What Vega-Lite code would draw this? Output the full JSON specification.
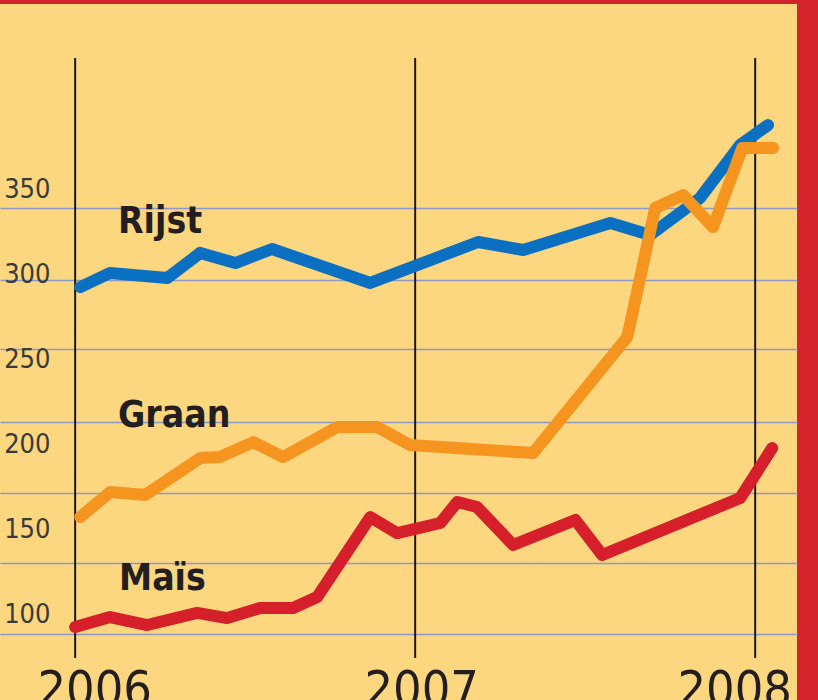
{
  "$schema": "https://vega.github.io/schema/vega-lite/v6.json",
  "width": 797,
  "height": 696,
  "autosize": "none",
  "padding": {"left": 0, "top": 4, "right": 21, "bottom": 0},
  "background": "#d5232b",
  "config": {"view": {"fill": "#fdd680", "stroke": null}},
  "datasets": {
    "years": [{"year": 2006}, {"year": 2007}, {"year": 2008}],
    "series": [
      {"series": "Rijst", "year": 2006.015, "value": 292.9},
      {"series": "Rijst", "year": 2006.103, "value": 301.2},
      {"series": "Rijst", "year": 2006.271, "value": 298.2},
      {"series": "Rijst", "year": 2006.368, "value": 313.0},
      {"series": "Rijst", "year": 2006.471, "value": 307.0},
      {"series": "Rijst", "year": 2006.579, "value": 315.3},
      {"series": "Rijst", "year": 2006.868, "value": 295.3},
      {"series": "Rijst", "year": 2007.185, "value": 319.4},
      {"series": "Rijst", "year": 2007.318, "value": 314.7},
      {"series": "Rijst", "year": 2007.574, "value": 330.6},
      {"series": "Rijst", "year": 2007.691, "value": 323.5},
      {"series": "Rijst", "year": 2007.838, "value": 345.3},
      {"series": "Rijst", "year": 2007.956, "value": 376.5},
      {"series": "Rijst", "year": 2008.038, "value": 388.2},
      {"series": "Graan", "year": 2006.015, "value": 157.6},
      {"series": "Graan", "year": 2006.103, "value": 172.3},
      {"series": "Graan", "year": 2006.206, "value": 170.6},
      {"series": "Graan", "year": 2006.368, "value": 192.3},
      {"series": "Graan", "year": 2006.426, "value": 192.9},
      {"series": "Graan", "year": 2006.524, "value": 201.7},
      {"series": "Graan", "year": 2006.612, "value": 192.9},
      {"series": "Graan", "year": 2006.771, "value": 210.6},
      {"series": "Graan", "year": 2006.888, "value": 210.6},
      {"series": "Graan", "year": 2006.985, "value": 200.0},
      {"series": "Graan", "year": 2007.074, "value": 198.8},
      {"series": "Graan", "year": 2007.347, "value": 195.3},
      {"series": "Graan", "year": 2007.624, "value": 263.5},
      {"series": "Graan", "year": 2007.706, "value": 339.4},
      {"series": "Graan", "year": 2007.788, "value": 347.0},
      {"series": "Graan", "year": 2007.876, "value": 328.2},
      {"series": "Graan", "year": 2007.962, "value": 374.7},
      {"series": "Graan", "year": 2008.053, "value": 374.7},
      {"series": "Maïs", "year": 2006.0, "value": 92.9},
      {"series": "Maïs", "year": 2006.103, "value": 98.8},
      {"series": "Maïs", "year": 2006.212, "value": 94.1},
      {"series": "Maïs", "year": 2006.359, "value": 101.2},
      {"series": "Maïs", "year": 2006.447, "value": 98.2},
      {"series": "Maïs", "year": 2006.544, "value": 104.1},
      {"series": "Maïs", "year": 2006.641, "value": 104.1},
      {"series": "Maïs", "year": 2006.712, "value": 110.6},
      {"series": "Maïs", "year": 2006.868, "value": 157.6},
      {"series": "Maïs", "year": 2006.947, "value": 148.2},
      {"series": "Maïs", "year": 2007.074, "value": 154.1},
      {"series": "Maïs", "year": 2007.124, "value": 166.5},
      {"series": "Maïs", "year": 2007.182, "value": 163.5},
      {"series": "Maïs", "year": 2007.288, "value": 141.2},
      {"series": "Maïs", "year": 2007.471, "value": 155.9},
      {"series": "Maïs", "year": 2007.550, "value": 135.3},
      {"series": "Maïs", "year": 2007.956, "value": 168.8},
      {"series": "Maïs", "year": 2008.050, "value": 198.2}
    ],
    "labels": [
      {"label": "Rijst", "year": 2006.126, "value": 324.7},
      {"label": "Graan", "year": 2006.126, "value": 210.8},
      {"label": "Maïs", "year": 2006.129, "value": 114.7}
    ]
  },
  "encoding": {
    "x": {
      "field": "year",
      "type": "quantitative",
      "scale": {"domain": [2005.779, 2008.123], "nice": false, "zero": false},
      "axis": {
        "values": [2006, 2007, 2008],
        "format": "d",
        "title": null,
        "grid": false,
        "ticks": false,
        "domain": false,
        "labelFont": "DejaVu Sans Condensed",
        "labelFontSize": 50,
        "labelColor": "#231f20",
        "labelBaseline": "alphabetic",
        "labelPadding": 5,
        "labelFlush": false,
        "labelBound": false,
        "labelOverlap": false,
        "labelOffset": {"condition": [{"test": "datum.value == 2006", "value": 19}, {"test": "datum.value == 2008", "value": -21}], "value": 6}
      }
    }
  },
  "layer": [
    {
      "data": {"name": "years"},
      "mark": {"type": "rule", "color": "#1a1a1a", "strokeWidth": 2},
      "encoding": {
        "y": {"datum": 427.6, "type": "quantitative", "scale": {"domain": [50, 459.4], "nice": false, "zero": false}, "axis": null},
        "y2": {"datum": 74.7}
      }
    },
    {
      "data": {"name": "series"},
      "mark": {"type": "line", "strokeWidth": 12, "strokeCap": "round", "strokeJoin": "round"},
      "encoding": {
        "y": {
          "field": "value",
          "type": "quantitative",
          "scale": {"domain": [50, 459.4], "nice": false, "zero": false},
          "axis": {
            "values": [88.8, 130.6, 171.7, 213.5, 256.5, 297.0, 339.4],
            "grid": true,
            "gridColor": "#8d99c6",
            "gridWidth": 1.5,
            "labels": false,
            "ticks": false,
            "domain": false,
            "title": null
          }
        },
        "color": {
          "field": "series",
          "type": "nominal",
          "scale": {"domain": ["Rijst", "Graan", "Maïs"], "range": ["#0b70c2", "#f5951f", "#d5202b"]},
          "legend": null
        }
      }
    },
    {
      "data": {"name": "labels"},
      "mark": {"type": "text", "align": "left", "baseline": "alphabetic", "font": "DejaVu Sans Condensed", "fontWeight": "bold", "fontSize": 37, "color": "#231f20"},
      "encoding": {
        "y": {
          "field": "value",
          "type": "quantitative",
          "scale": {"domain": [50, 459.4], "nice": false, "zero": false},
          "axis": {
            "orient": "left",
            "values": [100, 150, 200, 250, 300, 350],
            "grid": false,
            "ticks": false,
            "domain": false,
            "title": null,
            "labelAlign": "right",
            "labelBaseline": "middle",
            "labelPadding": -50,
            "labelFont": "DejaVu Sans Condensed",
            "labelFontSize": 27,
            "labelColor": "#3a3a3a",
            "labelBound": false,
            "labelFlush": false,
            "labelOverlap": false
          }
        },
        "text": {"field": "label"}
      }
    }
  ],
  "resolve": {"axis": {"y": "independent"}}
}
